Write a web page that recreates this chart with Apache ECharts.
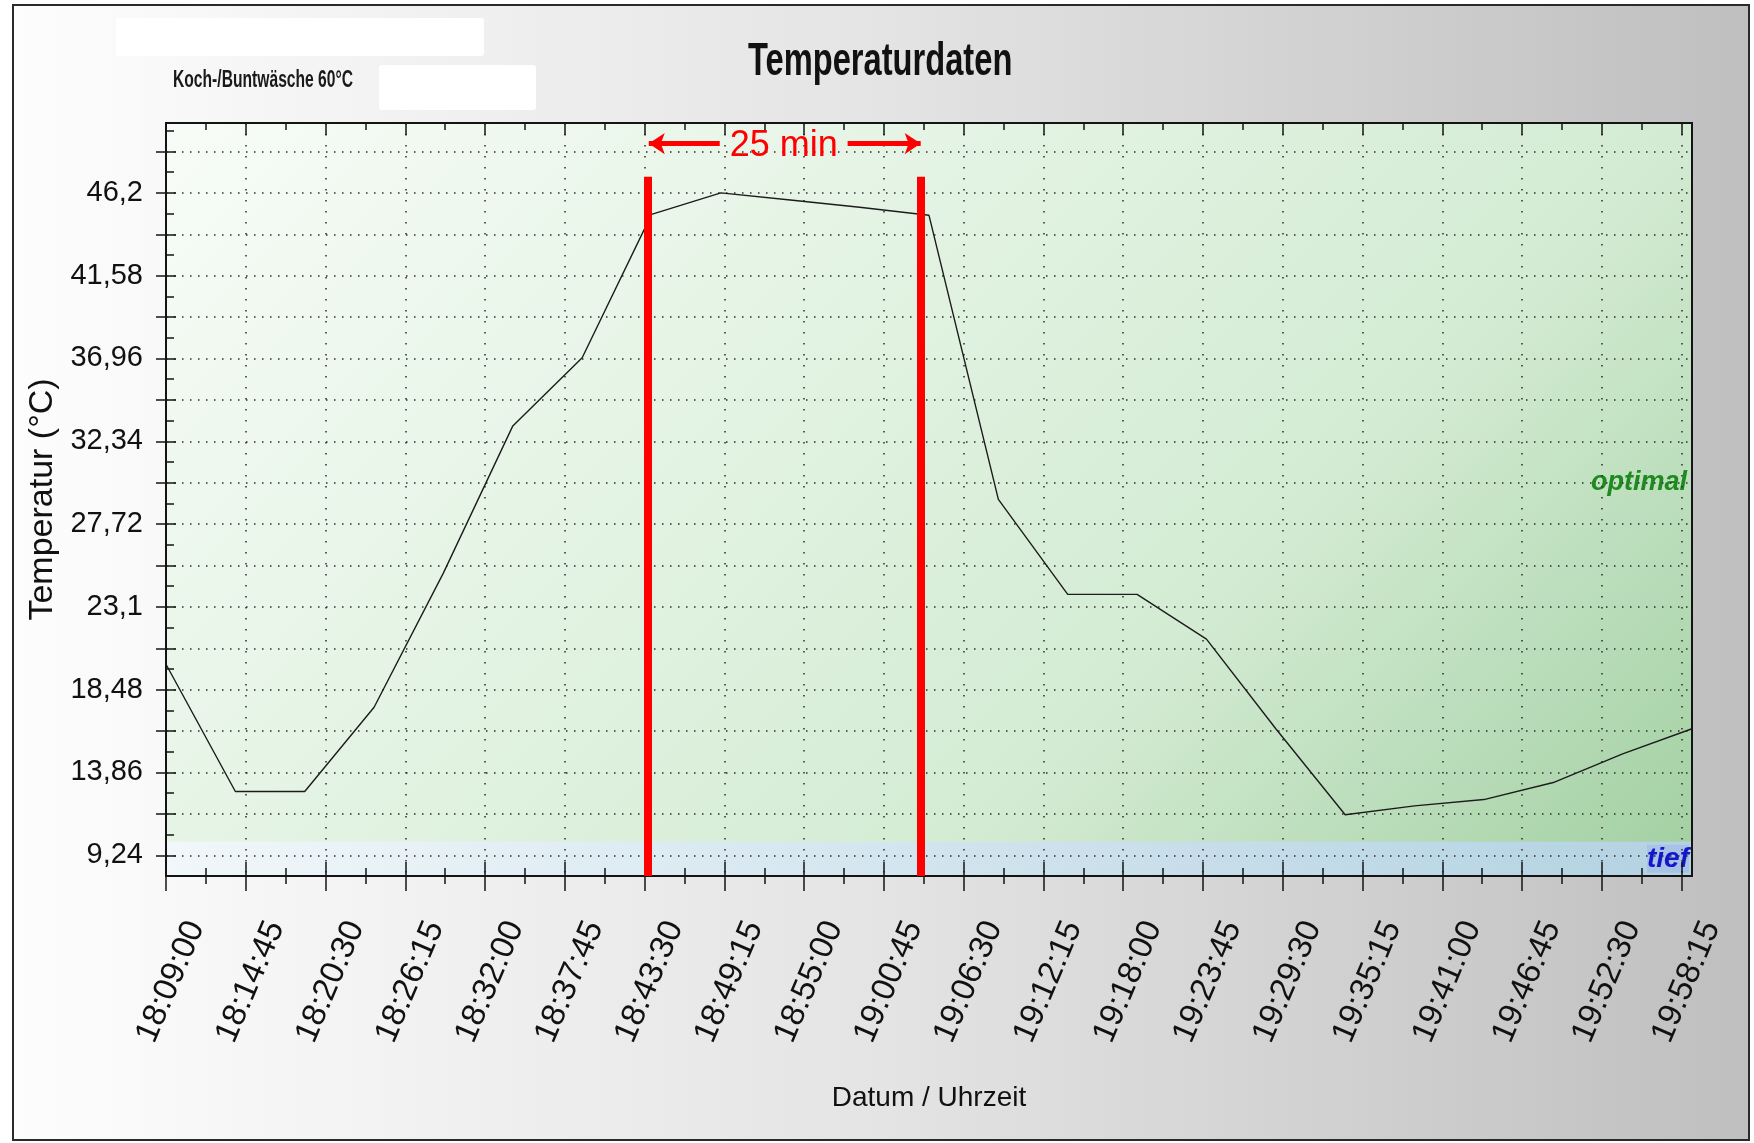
<!DOCTYPE html>
<html>
<head>
<meta charset="utf-8">
<title>Temperaturdaten</title>
<script src="https://cdn.jsdelivr.net/npm/echarts@6/dist/echarts.min.js"></script>
<style>
  html, body { margin: 0; padding: 0; background: #fff; }
  #chart { width: 1754px; height: 1143px; }
</style>
</head>
<body>
<div id="chart"></div>
<script>
// x axis tick labels (every 5:45)
const xLabels = ['18:09:00', '18:14:45', '18:20:30', '18:26:15', '18:32:00', '18:37:45', '18:43:30',
  '18:49:15', '18:55:00', '19:00:45', '19:06:30', '19:12:15', '19:18:00', '19:23:45', '19:29:30',
  '19:35:15', '19:41:00', '19:46:45', '19:52:30', '19:58:15']
const xEnd = '19:59:00'
const xStep = 345

// logger readings, one every 5 min
const times = ['18:09:00', '18:14:00', '18:19:00', '18:24:00', '18:29:00', '18:34:00', '18:39:00', '18:44:00',
  '18:49:00', '18:54:00', '18:59:00', '19:04:00', '19:09:00', '19:14:00', '19:19:00', '19:24:00',
  '19:29:00', '19:34:00', '19:39:00', '19:44:00', '19:49:00', '19:54:00', '19:59:00']
const temps = [19.9, 12.8, 12.8, 17.5, 25.0, 33.2, 37.0, 45.0, 46.2, 45.8, 45.4, 44.95, 29.1, 23.8, 23.8,
  21.3, 16.3, 11.5, 12.0, 12.35, 13.3, 14.9, 16.3]

// y axis
const yMin = 8.085
const yMax = 50.1
const yStep = 1.155
const yLabels = [9.24, 13.86, 18.48, 23.1, 27.72, 32.34, 36.96, 41.58, 46.2]
const yLongTicks = [9.24, 11.55, 13.86, 16.17, 18.48, 20.79, 23.1, 25.41, 27.72, 30.03, 32.34, 34.65,
  36.96, 39.27, 41.58, 43.89, 46.2, 48.51]
const yShortTicks = [8.085, 10.395, 12.705, 15.015, 17.325, 19.635, 21.945, 24.255, 26.565, 28.875, 31.185,
  33.495, 35.805, 38.115, 40.425, 42.735, 45.045, 47.355, 49.665]

// zones
const zoneLimit = 10

// red annotation
const markTimes = ['18:43:44', '19:03:26']
const markTop = 47.1
const arrowLeft = ['18:43:48', '18:48:55']
const arrowRight = ['18:58:08', '19:03:24']
const arrowY = 48.95
const spanText = '25 min'
const spanTextAt = ['18:53:32', 48.8]

function toSec (t) {
  const p = t.split(':').map(Number)
  return p[0] * 3600 + p[1] * 60 + p[2]
}
const base = toSec(xLabels[0])
function sec (t) {
  return toSec(t) - base
}

const seriesData = times.map((t, i) => [sec(t), temps[i]])
const xMajor = xLabels.map(sec)
const xMinor = xMajor.slice(0, -1).map(v => v + xStep / 2)

const sans = '"Liberation Sans", Arial, sans-serif'
const tickStyle = { color: '#141414', width: 1.5 }

function xAxisBase (extra) {
  return Object.assign({
    type: 'value',
    min: 0,
    max: sec(xEnd),
    interval: xStep,
    axisLine: { show: false, onZero: false },
    axisTick: { show: false },
    axisLabel: { show: false },
    splitLine: { show: false },
    z: 2
  }, extra)
}
function yAxisBase (extra) {
  return Object.assign({
    type: 'value',
    min: yMin,
    max: yMax,
    interval: yStep,
    position: 'left',
    axisLine: { show: false, onZero: false },
    axisTick: { show: false },
    axisLabel: { show: false },
    splitLine: { show: false },
    z: 2
  }, extra)
}

const chart = echarts.init(document.getElementById('chart'))
chart.setOption({
  animation: false,
  graphic: [
    {
      type: 'rect',
      z: -100,
      shape: { x: 13, y: 5, width: 1736, height: 1135 },
      style: {
        fill: new echarts.graphic.LinearGradient(0, 0, 1, 0, [
          { offset: 0, color: '#fdfdfd' },
          { offset: 0.5, color: '#e4e4e4' },
          { offset: 1, color: '#bfbfbf' }
        ]),
        stroke: '#2a2a2a',
        lineWidth: 2
      }
    },
    // blanked out fields
    { type: 'rect', z: -50, shape: { x: 116, y: 18, width: 368, height: 38, r: 3 }, style: { fill: '#ffffff' } },
    { type: 'rect', z: -50, shape: { x: 379, y: 65, width: 157, height: 45, r: 3 }, style: { fill: '#ffffff' } },
    // narrow looking texts: squeezed horizontally
    {
      type: 'text',
      z: -40,
      x: 173,
      y: 81,
      scaleX: 0.68,
      style: { text: 'Koch-/Buntwäsche 60°C', fontFamily: sans, fontSize: 23, fontWeight: 'bold', fill: '#1a1a1a', verticalAlign: 'middle' }
    },
    {
      type: 'text',
      z: -40,
      x: 748,
      y: 62,
      scaleX: 0.71,
      style: { text: 'Temperaturdaten', fontFamily: sans, fontSize: 46, fontWeight: 'bold', fill: '#111', verticalAlign: 'middle' }
    }
  ],
  grid: {
    left: 166,
    right: 62,
    top: 123,
    bottom: 267,
    show: true,
    borderColor: '#141414',
    borderWidth: 2,
    z: 4,
    outerBoundsMode: 'none'
  },
  xAxis: [
    xAxisBase({
      position: 'bottom',
      name: 'Datum / Uhrzeit',
      nameLocation: 'middle',
      nameGap: 208,
      nameTextStyle: { fontFamily: sans, fontSize: 28, color: '#111' },
      axisLabel: {
        show: true,
        rotate: 67,
        margin: 34,
        align: 'right',
        verticalAlign: 'top',
        padding: [16, 0, 0, 0],
        fontFamily: sans,
        fontSize: 33,
        color: '#111',
        formatter: function (v) {
          const i = xMajor.findIndex(m => Math.abs(m - v) < 1)
          return i < 0 ? '' : xLabels[i]
        }
      },
      splitLine: { show: true, lineStyle: { color: '#2b2b2b', type: [1.5, 9.5], width: 1.5 } }
    }),
    xAxisBase({
      position: 'bottom',
      offset: -14,
      axisTick: { show: true, customValues: xMajor, inside: false, length: 29, lineStyle: tickStyle }
    }),
    xAxisBase({
      position: 'bottom',
      offset: -8,
      axisTick: { show: true, customValues: xMinor, inside: false, length: 16, lineStyle: tickStyle }
    }),
    xAxisBase({
      position: 'top',
      axisTick: { show: true, customValues: xMajor, inside: true, length: 12, lineStyle: tickStyle }
    }),
    xAxisBase({
      position: 'top',
      axisTick: { show: true, customValues: xMinor, inside: true, length: 7, lineStyle: tickStyle }
    })
  ],
  yAxis: [
    yAxisBase({
      name: 'Temperatur (°C)',
      nameLocation: 'middle',
      nameGap: 91,
      nameTextStyle: { fontFamily: sans, fontSize: 34, color: '#111' },
      axisLabel: {
        show: true,
        margin: 23,
        fontFamily: sans,
        fontSize: 29,
        color: '#111',
        formatter: function (v) {
          const hit = yLabels.find(l => Math.abs(l - v) < 1e-6)
          return hit === undefined ? '' : String(hit).replace('.', ',')
        }
      },
      // every second line (from min) is a dotted grid line
      splitLine: {
        show: true,
        lineStyle: { color: ['rgba(0,0,0,0)', '#2b2b2b'], type: [1.5, 6.5], width: 1.5 }
      }
    }),
    yAxisBase({
      offset: -10,
      axisTick: { show: true, customValues: yLongTicks, inside: false, length: 20, lineStyle: tickStyle }
    }),
    yAxisBase({
      axisTick: { show: true, customValues: yShortTicks, inside: true, length: 8, lineStyle: tickStyle }
    })
  ],
  series: [
    {
      name: 'Bereiche',
      type: 'line',
      data: seriesData,
      symbol: 'none',
      silent: true,
      z: 1,
      lineStyle: { opacity: 0 },
      markArea: {
        silent: true,
        data: [
          [
            {
              name: 'optimal',
              yAxis: zoneLimit,
              itemStyle: {
                // diagonal shading, light at top left
                color: {
                  type: 'linear', x: 166, y: 123, x2: 1692, y2: 1649, global: true,
                  colorStops: [
                    { offset: 0, color: '#f8fcf8' },
                    { offset: 0.25, color: '#e5f4e5' },
                    { offset: 0.5, color: '#d3ebd3' },
                    { offset: 0.74, color: '#a3d0a3' },
                    { offset: 1, color: '#8cc28c' }
                  ]
                }
              },
              label: {
                show: true,
                position: 'insideRight',
                distance: 5,
                fontFamily: sans,
                fontSize: 27,
                fontWeight: 'bold',
                fontStyle: 'italic',
                color: '#1f8a1f'
              }
            },
            { yAxis: yMax }
          ],
          [
            {
              name: 'tief',
              yAxis: yMin,
              itemStyle: {
                color: {
                  type: 'linear', x: 0, y: 0, x2: 1, y2: 0,
                  colorStops: [
                    { offset: 0, color: '#f1f7fa' },
                    { offset: 1, color: '#b3d2e2' }
                  ]
                }
              },
              label: {
                show: true,
                position: 'insideRight',
                distance: 3,
                fontFamily: sans,
                fontSize: 28,
                fontWeight: 'bold',
                fontStyle: 'italic',
                color: '#1515cc',
                backgroundColor: 'rgba(140,160,240,0.3)'
              }
            },
            { yAxis: zoneLimit }
          ]
        ]
      }
    },
    {
      name: 'Temperatur',
      type: 'line',
      data: seriesData,
      symbol: 'none',
      z: 3,
      lineStyle: { color: '#1c1c1c', width: 1.4 }
    },
    {
      name: 'Markierung',
      type: 'line',
      data: seriesData,
      symbol: 'none',
      silent: true,
      z: 5,
      lineStyle: { opacity: 0 },
      markLine: {
        silent: true,
        symbol: ['none', 'none'],
        label: { show: false },
        data: markTimes.map(t => [
          { coord: [sec(t), markTop], lineStyle: { color: '#ff0000', width: 8, type: 'solid' } },
          { coord: [sec(t), yMin] }
        ]).concat([
          [
            { coord: [sec(arrowLeft[0]), arrowY], symbol: 'arrow', symbolSize: 16, lineStyle: { color: '#ff0000', width: 5, type: 'solid' } },
            { coord: [sec(arrowLeft[1]), arrowY], symbol: 'none' }
          ],
          [
            { coord: [sec(arrowRight[0]), arrowY], symbol: 'none', lineStyle: { color: '#ff0000', width: 5, type: 'solid' } },
            { coord: [sec(arrowRight[1]), arrowY], symbol: 'arrow', symbolSize: 16 }
          ]
        ]),
        itemStyle: { color: '#ff0000' }
      },
      markPoint: {
        silent: true,
        symbol: 'circle',
        symbolSize: 1,
        itemStyle: { color: 'rgba(0,0,0,0)' },
        label: {
          show: true,
          position: 'inside',
          formatter: spanText,
          fontFamily: sans,
          fontSize: 36,
          color: '#ff0000'
        },
        data: [{ coord: [sec(spanTextAt[0]), spanTextAt[1]] }]
      }
    }
  ]
})
</script>
</body>
</html>
